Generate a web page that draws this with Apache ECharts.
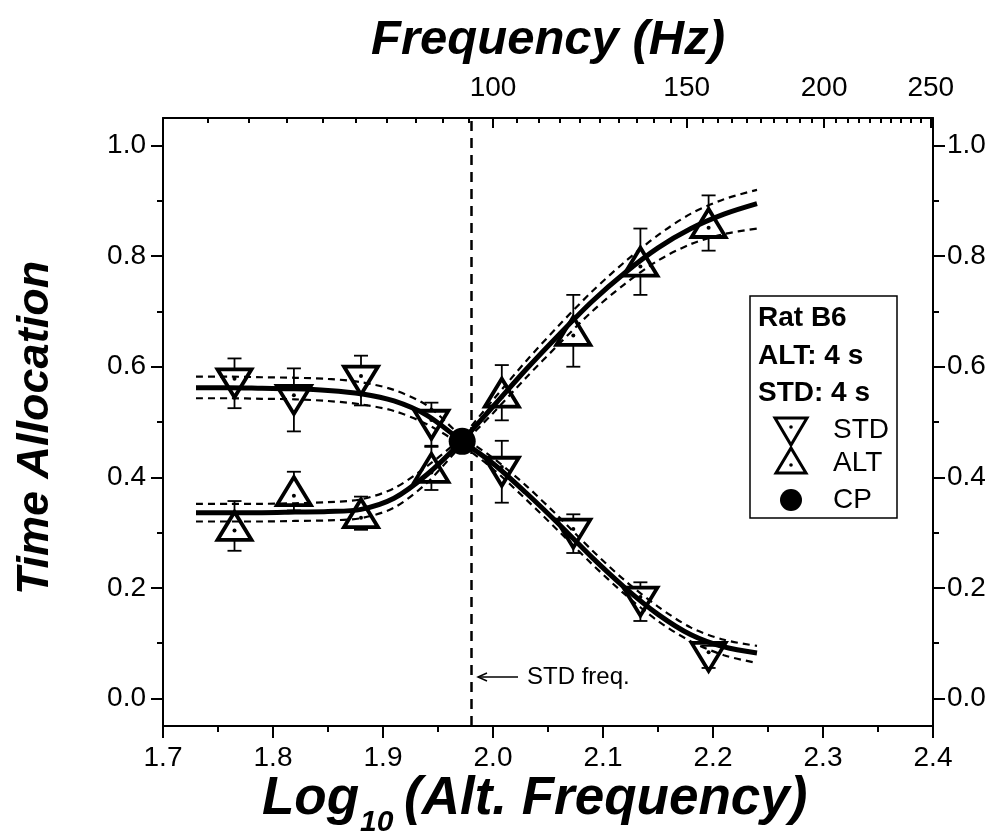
<!DOCTYPE html>
<html>
<head>
<meta charset="utf-8">
<script src="https://cdn.jsdelivr.net/npm/echarts@6/dist/echarts.min.js"></script>
<style>
  html, body { margin: 0; padding: 0; background: #fff; }
  #chart { width: 1005px; height: 840px; }
</style>
</head>
<body>
<div id="chart"></div>
<script>
  // data
  var logFreq = [1.765, 1.819, 1.880, 1.944, 2.008, 2.073, 2.134, 2.196];
  var stdMean = [0.570, 0.540, 0.575, 0.495, 0.410, 0.298, 0.175, 0.075];
  var stdErr  = [0.045, 0.057, 0.045, 0.040, 0.056, 0.035, 0.035, 0.020];
  var altMean = [0.312, 0.375, 0.335, 0.417, 0.553, 0.665, 0.790, 0.860];
  var altErr  = [0.045, 0.035, 0.030, 0.040, 0.050, 0.065, 0.060, 0.050];
  var cpPoint = [1.972, 0.465];
  var stdFreqLog = 1.975;

  // fitted curves and confidence bands
  var fitX     = [1.73, 1.76, 1.79, 1.82, 1.85, 1.88, 1.91, 1.94, 1.97, 2.00, 2.03, 2.06, 2.09, 2.12, 2.15, 2.18, 2.21, 2.24];
  var stdFit   = [0.562, 0.562, 0.561, 0.560, 0.557, 0.551, 0.538, 0.512, 0.468, 0.425, 0.372, 0.315, 0.255, 0.200, 0.152, 0.115, 0.093, 0.082];
  var stdUpper = [0.582, 0.582, 0.581, 0.580, 0.578, 0.572, 0.558, 0.530, 0.477, 0.435, 0.385, 0.328, 0.268, 0.213, 0.166, 0.128, 0.106, 0.095];
  var stdLower = [0.543, 0.543, 0.542, 0.541, 0.538, 0.532, 0.520, 0.496, 0.460, 0.415, 0.360, 0.302, 0.243, 0.188, 0.140, 0.103, 0.078, 0.064];
  var altFit   = [0.336, 0.336, 0.336, 0.337, 0.338, 0.342, 0.362, 0.405, 0.462, 0.528, 0.595, 0.658, 0.718, 0.770, 0.815, 0.850, 0.876, 0.895];
  var altUpper = [0.352, 0.352, 0.352, 0.353, 0.355, 0.360, 0.380, 0.420, 0.470, 0.540, 0.610, 0.675, 0.736, 0.790, 0.838, 0.877, 0.903, 0.920];
  var altLower = [0.320, 0.320, 0.320, 0.321, 0.322, 0.326, 0.345, 0.390, 0.455, 0.516, 0.580, 0.641, 0.700, 0.750, 0.792, 0.822, 0.840, 0.850];

  // tick labels
  var yTicks = [0, 0.2, 0.4, 0.6, 0.8, 1.0];
  var yMinor = [0.1, 0.3, 0.5, 0.7, 0.9];
  var freqMajor = [100, 150, 200, 250];
  var freqMinor = [55, 60, 65, 70, 75, 80, 85, 90, 95, 105, 110, 115, 120, 125, 130, 135, 140, 145,
                   155, 160, 165, 170, 175, 180, 185, 190, 195, 205, 210, 215, 220, 225, 230, 235, 240, 245];

  var FONT = '"Liberation Sans", Arial, sans-serif';

  function zip(xs, ys) {
    return xs.map(function (x, i) { return [x, ys[i]]; });
  }
  function withErr(means, errs) {
    return logFreq.map(function (x, i) { return [x, means[i], errs[i]]; });
  }
  function log10(v) { return Math.log(v) / Math.LN10; }

  // triangle marker, error bar drawn only outside the symbol
  function triangleItem(down) {
    return function (params, api) {
      var c = api.coord([api.value(0), api.value(1)]);
      var hi = api.coord([api.value(0), api.value(1) + api.value(2)]);
      var lo = api.coord([api.value(0), api.value(1) - api.value(2)]);
      var w = 17, h = 14, cap = 7;
      var pts, dotY;
      if (down) {
        pts = [[c[0] - w, c[1] - h], [c[0] + w, c[1] - h], [c[0], c[1] + h]];
        dotY = c[1] - h / 3;
      } else {
        pts = [[c[0] - w, c[1] + h], [c[0] + w, c[1] + h], [c[0], c[1] - h]];
        dotY = c[1] + h / 3;
      }
      var barStyle = { stroke: '#000', lineWidth: 1.8 };
      var kids = [];
      if (hi[1] < c[1] - h) {
        kids.push({ type: 'line', shape: { x1: c[0], y1: hi[1], x2: c[0], y2: c[1] - h }, style: barStyle });
      }
      if (lo[1] > c[1] + h) {
        kids.push({ type: 'line', shape: { x1: c[0], y1: c[1] + h, x2: c[0], y2: lo[1] }, style: barStyle });
      }
      kids.push({ type: 'line', shape: { x1: c[0] - cap, y1: hi[1], x2: c[0] + cap, y2: hi[1] }, style: barStyle });
      kids.push({ type: 'line', shape: { x1: c[0] - cap, y1: lo[1], x2: c[0] + cap, y2: lo[1] }, style: barStyle });
      kids.push({ type: 'polygon', shape: { points: pts }, style: { fill: 'none', stroke: '#000', lineWidth: 3.8 } });
      kids.push({ type: 'circle', shape: { cx: c[0], cy: dotY, r: 2 }, style: { fill: '#000' } });
      return { type: 'group', children: kids };
    };
  }

  var chart = echarts.init(document.getElementById('chart'));

  function fitSeries(ys, dashed) {
    return {
      type: 'line', symbol: 'none', smooth: 0.3, silent: true, z: 3,
      data: zip(fitX, ys),
      lineStyle: dashed ? { color: '#000', width: 2.2, type: [7, 5] } : { color: '#000', width: 5 }
    };
  }

  var tickStyle = { color: '#000', width: 2 };
  var labelStyle = { color: '#000', fontSize: 28, fontFamily: FONT };

  var option = {
    animation: false,
    backgroundColor: '#fff',
    grid: { left: 163, right: 72, top: 118, bottom: 114 },
    xAxis: [
      {
        type: 'value', position: 'bottom', min: 1.7, max: 2.4, interval: 0.1,
        axisLine: { onZero: false, lineStyle: { color: '#000', width: 2 } },
        axisTick: { inside: false, length: 12, lineStyle: tickStyle },
        minorTick: { show: true, splitNumber: 2, length: 6, lineStyle: tickStyle },
        axisLabel: Object.assign({ margin: 18, formatter: function (v) { return v.toFixed(1); } }, labelStyle),
        splitLine: { show: false }
      },
      {
        type: 'value', position: 'top', min: 1.7, max: 2.4,
        axisLine: { onZero: false, lineStyle: { color: '#000', width: 2 } },
        axisTick: { inside: true, length: 10, lineStyle: tickStyle, customValues: freqMajor.map(log10) },
        axisLabel: Object.assign({
          margin: 16, customValues: freqMajor.map(log10),
          formatter: function (v) { return String(Math.round(Math.pow(10, v))); }
        }, labelStyle),
        splitLine: { show: false }
      },
      {
        type: 'value', position: 'top', min: 1.7, max: 2.4,
        axisLine: { show: false, onZero: false },
        axisTick: { inside: true, length: 5, lineStyle: tickStyle, customValues: freqMinor.map(log10) },
        axisLabel: { show: false },
        splitLine: { show: false }
      }
    ],
    yAxis: [
      {
        type: 'value', position: 'left', min: -0.05, max: 1.05,
        axisLine: { show: true, onZero: false, lineStyle: { color: '#000', width: 2 } },
        axisTick: { show: true, inside: false, length: 12, lineStyle: tickStyle, customValues: yTicks },
        axisLabel: Object.assign({ margin: 17, customValues: yTicks, formatter: function (v) { return v.toFixed(1); } }, labelStyle),
        splitLine: { show: false }
      },
      {
        type: 'value', position: 'right', min: -0.05, max: 1.05,
        axisLine: { show: true, onZero: false, lineStyle: { color: '#000', width: 2 } },
        axisTick: { show: true, inside: false, length: 12, lineStyle: tickStyle, customValues: yTicks },
        axisLabel: Object.assign({ margin: 14, customValues: yTicks, formatter: function (v) { return v.toFixed(1); } }, labelStyle),
        splitLine: { show: false }
      },
      {
        type: 'value', position: 'left', min: -0.05, max: 1.05,
        axisLine: { show: false, onZero: false },
        axisTick: { show: true, inside: false, length: 6, lineStyle: tickStyle, customValues: yMinor },
        axisLabel: { show: false }, splitLine: { show: false }
      },
      {
        type: 'value', position: 'right', min: -0.05, max: 1.05,
        axisLine: { show: false, onZero: false },
        axisTick: { show: true, inside: false, length: 6, lineStyle: tickStyle, customValues: yMinor },
        axisLabel: { show: false }, splitLine: { show: false }
      }
    ],
    series: [
      fitSeries(stdUpper, true),
      fitSeries(stdLower, true),
      fitSeries(altUpper, true),
      fitSeries(altLower, true),
      fitSeries(stdFit, false),
      Object.assign(fitSeries(altFit, false), {
        markLine: {
          silent: true, symbol: 'none', label: { show: false },
          lineStyle: { color: '#000', width: 2.5, type: [10, 7] },
          data: [{ xAxis: stdFreqLog }]
        }
      }),
      { type: 'custom', renderItem: triangleItem(true), data: withErr(stdMean, stdErr), z: 5, silent: true },
      { type: 'custom', renderItem: triangleItem(false), data: withErr(altMean, altErr), z: 5, silent: true },
      {
        type: 'scatter', data: [cpPoint], symbol: 'circle', symbolSize: 27, z: 6, silent: true,
        itemStyle: { color: '#000', opacity: 1 }
      }
    ],
    graphic: [
      {
        type: 'text', x: 548, y: 40,
        style: { text: 'Frequency (Hz)', font: 'italic bold 49px ' + FONT, fill: '#000', align: 'center', verticalAlign: 'middle' }
      },
      {
        type: 'text', x: 36, y: 428, rotation: Math.PI / 2,
        style: { text: 'Time Allocation', font: 'italic bold 45px ' + FONT, fill: '#000', align: 'center', verticalAlign: 'middle' }
      },
      {
        type: 'text', x: 262, y: 799,
        style: { text: 'Log', font: 'italic bold 53px ' + FONT, fill: '#000', verticalAlign: 'middle' }
      },
      {
        type: 'text', x: 360, y: 823,
        style: { text: '10', font: 'italic bold 30px ' + FONT, fill: '#000', verticalAlign: 'middle' }
      },
      {
        type: 'text', x: 404, y: 799,
        style: { text: '(Alt. Frequency)', font: 'italic bold 53px ' + FONT, fill: '#000', verticalAlign: 'middle' }
      },
      // arrow annotation
      {
        type: 'line', shape: { x1: 478, y1: 677, x2: 518, y2: 677 },
        style: { stroke: '#000', lineWidth: 1.5 }
      },
      {
        type: 'polyline', shape: { points: [[487, 673], [478, 677], [487, 681]] },
        style: { stroke: '#000', lineWidth: 1.5, fill: 'none' }
      },
      {
        type: 'text', x: 527, y: 677,
        style: { text: 'STD freq.', font: '24px ' + FONT, fill: '#000', verticalAlign: 'middle' }
      },
      // legend box
      {
        type: 'rect', shape: { x: 750, y: 296, width: 147, height: 222 },
        style: { fill: '#fff', stroke: '#000', lineWidth: 1.5 }, z: 10
      },
      { type: 'text', x: 758, y: 318, z: 11, style: { text: 'Rat B6', font: 'bold 28px ' + FONT, fill: '#000', verticalAlign: 'middle' } },
      { type: 'text', x: 758, y: 356, z: 11, style: { text: 'ALT: 4 s', font: 'bold 28px ' + FONT, fill: '#000', verticalAlign: 'middle' } },
      { type: 'text', x: 758, y: 393, z: 11, style: { text: 'STD: 4 s', font: 'bold 28px ' + FONT, fill: '#000', verticalAlign: 'middle' } },
      {
        type: 'polygon', z: 11, shape: { points: [[775, 418], [807, 418], [791, 445]] },
        style: { fill: 'none', stroke: '#000', lineWidth: 3 }
      },
      { type: 'circle', z: 11, shape: { cx: 791, cy: 427, r: 1.8 }, style: { fill: '#000' } },
      {
        type: 'polygon', z: 11, shape: { points: [[776, 473], [806, 473], [791, 448]] },
        style: { fill: 'none', stroke: '#000', lineWidth: 3 }
      },
      { type: 'circle', z: 11, shape: { cx: 791, cy: 465, r: 1.8 }, style: { fill: '#000' } },
      { type: 'circle', z: 11, shape: { cx: 791, cy: 500, r: 11 }, style: { fill: '#000' } },
      { type: 'text', x: 833, y: 430, z: 11, style: { text: 'STD', font: '28px ' + FONT, fill: '#000', verticalAlign: 'middle' } },
      { type: 'text', x: 833, y: 463, z: 11, style: { text: 'ALT', font: '28px ' + FONT, fill: '#000', verticalAlign: 'middle' } },
      { type: 'text', x: 833, y: 500, z: 11, style: { text: 'CP', font: '28px ' + FONT, fill: '#000', verticalAlign: 'middle' } }
    ]
  };

  chart.setOption(option);
</script>
</body>
</html>
